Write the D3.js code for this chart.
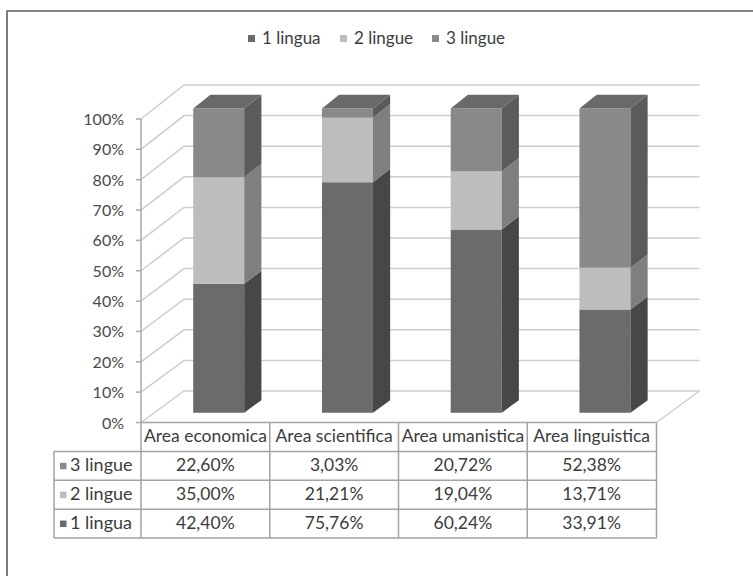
<!DOCTYPE html>
<html>
<head>
<meta charset="utf-8">
<script src="https://cdn.jsdelivr.net/npm/d3@7"></script>
<style>
  body { margin: 0; background: #fff; }
  svg { display: block; }
  text { font-family: Lato, "Liberation Sans", sans-serif; }
</style>
</head>
<body>
<svg id="chart" width="753" height="576"></svg>
<script>
// Percentuale di studenti per numero di lingue studiate, per area
const categories = ["Area economica", "Area scientifica", "Area umanistica", "Area linguistica"];
const seriesNames = ["1 lingua", "2 lingue", "3 lingue"];
const unaLingua = [42.40, 75.76, 60.24, 33.91];
const dueLingue = [35.00, 21.21, 19.04, 13.71];
const treLingue = [22.60, 3.03, 20.72, 52.38];
const yTicks = [0, 10, 20, 30, 40, 50, 60, 70, 80, 90, 100];
const tableRows = ["3 lingue", "2 lingue", "1 lingua"];

const colors = {
  "1 lingua": { front: "#6b6b6b", side: "#474747", top: "#5a5a5a" },
  "2 lingue": { front: "#bdbdbd", side: "#7f7f7f", top: "#a3a3a3" },
  "3 lingue": { front: "#898989", side: "#5b5b5b", top: "#696969" }
};

const rows = categories.map((c, i) => ({
  category: c,
  "1 lingua": unaLingua[i],
  "2 lingue": dueLingue[i],
  "3 lingue": treLingue[i]
}));

const svg = d3.select("#chart");
const fmt = v => d3.format(".2f")(v).replace(".", ",") + "%";
const textColor = "#3c3c3c";

// Frame (left and top edges)
svg.append("path").attr("d", "M7,576 L7,11 L753,11")
  .attr("fill", "none").attr("stroke", "#5e5e5e").attr("stroke-width", 1.6);

// Scales: front plane and back wall of the pseudo-3D plot
const x = d3.scaleBand().domain(categories).range([141, 656]);
const yFront = d3.scaleLinear().domain([0, 100]).range([422.5, 119]);
const yBack = d3.scaleLinear().domain([0, 100]).range([391, 85]);
const depthX = 43;
const proj = (px, v, z) => [px + z * depthX, yFront(v) + z * (yBack(v) - yFront(v))];
const line = d3.line();

const grid = svg.append("g");
// Back wall gridlines and side wall diagonals
yTicks.forEach(t => {
  grid.append("path")
    .attr("d", line([proj(141, t, 0), proj(141, t, 1), proj(656.5, t, 1)]))
    .attr("fill", "none").attr("stroke", "#cdcdcd").attr("stroke-width", 1.5);
});
// Floor right edge
grid.append("path")
  .attr("d", line([proj(656.5, 0, 0), proj(656.5, 0, 1)]))
  .attr("fill", "none").attr("stroke", "#cdcdcd").attr("stroke-width", 1.5);

// Front value axis with ticks
const axis = svg.append("g");
axis.append("line").attr("x1", 141).attr("x2", 141)
  .attr("y1", yFront(100)).attr("y2", yFront(0))
  .attr("stroke", "#a9a9a9").attr("stroke-width", 1.5);
yTicks.forEach(t => {
  axis.append("line").attr("x1", 136).attr("x2", 141)
    .attr("y1", yFront(t)).attr("y2", yFront(t))
    .attr("stroke", "#a9a9a9").attr("stroke-width", 1.5);
  axis.append("text").attr("x", 124).attr("y", yFront(t) + 2)
    .attr("text-anchor", "end").attr("dominant-baseline", "middle")
    .attr("font-size", 16).attr("fill", "#4a4a4a")
    .text(t + "%");
});

// Stacked 3D bars
const stack = d3.stack().keys(seriesNames)(rows);
const zF = 0.31, zB = 0.71, halfW = 25.5;
const bars = svg.append("g");
categories.forEach((c, i) => {
  const cx = x(c) + x.bandwidth() / 2;
  stack.forEach((layer, li) => {
    const [lo, hi] = layer[i];
    const col = colors[layer.key];
    const xl = cx - halfW, xr = cx + halfW;
    const fbl = proj(xl, lo, zF), fbr = proj(xr, lo, zF);
    const ftl = proj(xl, hi, zF), ftr = proj(xr, hi, zF);
    const bbr = proj(xr, lo, zB), btr = proj(xr, hi, zB), btl = proj(xl, hi, zB);
    // front face
    bars.append("path").attr("d", line([fbl, fbr, ftr, ftl]) + "Z").attr("fill", col.front);
    // right side face
    bars.append("path").attr("d", line([fbr, bbr, btr, ftr]) + "Z").attr("fill", col.side);
    // top face on the last segment
    if (li === stack.length - 1) {
      bars.append("path").attr("d", line([ftl, ftr, btr, btl]) + "Z").attr("fill", col.top);
    }
  });
});

// Legend
const legend = svg.append("g");
const legendX = [248, 340, 432];
seriesNames.forEach((s, i) => {
  legend.append("rect").attr("x", legendX[i]).attr("y", 35).attr("width", 7).attr("height", 7)
    .attr("fill", colors[s].front);
  legend.append("text").attr("x", legendX[i] + 14).attr("y", 39.5)
    .attr("dominant-baseline", "middle").attr("font-size", 17).attr("fill", textColor)
    .text(s);
});

// Data table below the floor
const table = svg.append("g");
const rowY = d3.scaleBand().domain(["header"].concat(tableRows)).range([422.5, 538]);
const tableStroke = "#a3a3a3";
// horizontal lines
["header"].concat(tableRows).forEach(r => {
  const y0 = rowY(r) + rowY.bandwidth();
  table.append("line").attr("x1", 54).attr("x2", 656.5).attr("y1", y0).attr("y2", y0)
    .attr("stroke", tableStroke).attr("stroke-width", 1.5);
});
table.append("line").attr("x1", 141).attr("x2", 656.5).attr("y1", 422.5).attr("y2", 422.5)
  .attr("stroke", tableStroke).attr("stroke-width", 1.5);
// vertical lines
table.append("line").attr("x1", 54).attr("x2", 54)
  .attr("y1", rowY("3 lingue")).attr("y2", 538)
  .attr("stroke", tableStroke).attr("stroke-width", 1.5);
categories.forEach(c => {
  table.append("line").attr("x1", x(c)).attr("x2", x(c)).attr("y1", 422.5).attr("y2", 538)
    .attr("stroke", tableStroke).attr("stroke-width", 1.5);
});
table.append("line").attr("x1", 656.5).attr("x2", 656.5).attr("y1", 422.5).attr("y2", 538)
  .attr("stroke", tableStroke).attr("stroke-width", 1.5);

// header texts
categories.forEach(c => {
  table.append("text").attr("x", x(c) + x.bandwidth() / 2)
    .attr("y", rowY("header") + rowY.bandwidth() / 2 + 1)
    .attr("text-anchor", "middle").attr("dominant-baseline", "middle")
    .attr("font-size", 17.5).attr("fill", textColor).text(c);
});
// row labels and values
const valuesBySeries = { "1 lingua": unaLingua, "2 lingue": dueLingue, "3 lingue": treLingue };
tableRows.forEach(r => {
  const cy = rowY(r) + rowY.bandwidth() / 2 + 1;
  table.append("rect").attr("x", 60).attr("y", cy - 4).attr("width", 6.5).attr("height", 6.5)
    .attr("fill", colors[r].front);
  table.append("text").attr("x", 70).attr("y", cy)
    .attr("dominant-baseline", "middle").attr("font-size", 18).attr("fill", textColor).text(r);
  categories.forEach((c, i) => {
    table.append("text").attr("x", x(c) + x.bandwidth() / 2).attr("y", cy)
      .attr("text-anchor", "middle").attr("dominant-baseline", "middle")
      .attr("font-size", 17.5).attr("fill", textColor).text(fmt(valuesBySeries[r][i]));
  });
});
</script>
</body>
</html>
